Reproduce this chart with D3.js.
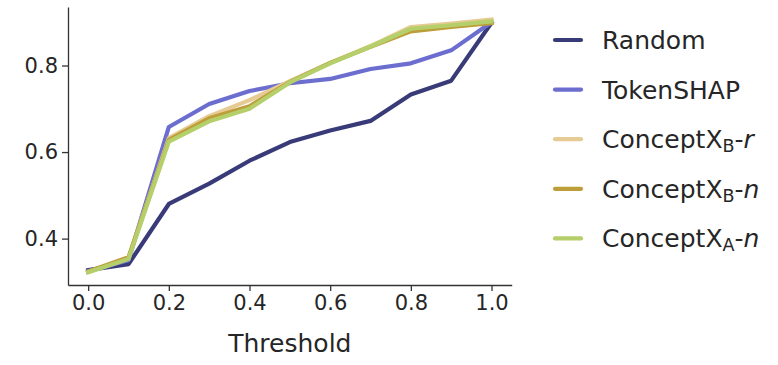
<!DOCTYPE html>
<html>
<head>
<meta charset="utf-8">
<script src="https://cdn.jsdelivr.net/npm/d3@7"></script>
<style>
  html, body { margin: 0; padding: 0; background: #fff; }
  svg { display: block; font-family: "DejaVu Sans", sans-serif; }
</style>
</head>
<body>
<svg id="chart" width="778" height="365"></svg>
<script>
// ---- data ----
const thresholds = [0.0, 0.1, 0.2, 0.3, 0.4, 0.5, 0.6, 0.7, 0.8, 0.9, 1.0];
const seriesNames = ["Random", "TokenSHAP", "ConceptX_B-r", "ConceptX_B-n", "ConceptX_A-n"];
const randomVals    = [0.327, 0.341, 0.480, 0.527, 0.580, 0.623, 0.650, 0.672, 0.733, 0.765, 0.899];
const tokenshapVals = [0.325, 0.350, 0.658, 0.711, 0.741, 0.759, 0.769, 0.792, 0.805, 0.835, 0.900];
const cxBrVals      = [0.323, 0.355, 0.632, 0.683, 0.720, 0.764, 0.806, 0.845, 0.889, 0.897, 0.906];
const cxBnVals      = [0.324, 0.357, 0.628, 0.678, 0.706, 0.762, 0.806, 0.843, 0.879, 0.889, 0.898];
const cxAnVals      = [0.322, 0.353, 0.624, 0.671, 0.700, 0.761, 0.805, 0.844, 0.885, 0.893, 0.902];
const colors = ["#393b79", "#6b6ecf", "#e7cb94", "#bd9e39", "#b5cf6b"];
const xTicks = [0.0, 0.2, 0.4, 0.6, 0.8, 1.0];
const yTicks = [0.4, 0.6, 0.8];
const xLabel = "Threshold";
// legend labels: [main, subscript, suffix(italic)]
const legendParts = [
  ["Random", "", ""],
  ["TokenSHAP", "", ""],
  ["ConceptX", "B", "r"],
  ["ConceptX", "B", "n"],
  ["ConceptX", "A", "n"]
];

const allSeries = [randomVals, tokenshapVals, cxBrVals, cxBnVals, cxAnVals];

// ---- layout ----
const svg = d3.select("#chart");
const mLeft = 68, mRight = 511.7, mTop = 7, mBottom = 285;

const x = d3.scaleLinear().domain([-0.05, 1.05]).range([mLeft, mRight]);
const y = d3.scaleLinear().domain([0.2928, 0.9352]).range([mBottom, mTop]);

const textColor = "#262626";
const axisColor = "#333333";
const tickFont = 21;

// axes
const xAxis = svg.append("g")
  .attr("transform", `translate(0,${mBottom})`)
  .call(d3.axisBottom(x).tickValues(xTicks).tickFormat(d3.format(".1f")).tickSize(6).tickPadding(5).tickSizeOuter(0));
const yAxis = svg.append("g")
  .attr("transform", `translate(${mLeft},0)`)
  .call(d3.axisLeft(y).tickValues(yTicks).tickFormat(d3.format(".1f")).tickSize(6).tickPadding(5).tickSizeOuter(0));

[xAxis, yAxis].forEach(g => {
  g.attr("font-size", tickFont).attr("font-family", "DejaVu Sans");
  g.select(".domain").attr("stroke", axisColor).attr("stroke-width", 1.3);
  g.selectAll(".tick line").attr("stroke", axisColor).attr("stroke-width", 1.3);
  g.selectAll(".tick text").attr("fill", textColor);
});
xAxis.selectAll(".tick text").attr("dy", "0.71em").attr("y", 10);
yAxis.selectAll(".tick text").attr("x", -10);

// x label
svg.append("text")
  .attr("x", (mLeft + mRight) / 2)
  .attr("y", 351.5)
  .attr("text-anchor", "middle")
  .attr("fill", textColor)
  .style("font-size", "25px")
  .text(xLabel);

// lines
const line = d3.line()
  .x((d, i) => x(thresholds[i]))
  .y(d => y(d));

svg.append("g").selectAll("path")
  .data(allSeries)
  .join("path")
  .attr("d", d => line(d))
  .attr("fill", "none")
  .attr("stroke", (d, i) => colors[i])
  .attr("stroke-width", 4.2)
  .attr("stroke-linejoin", "round")
  .attr("stroke-linecap", "square");

// legend
const legend = svg.append("g");
const legY0 = 40, legStep = 49.6;
legendParts.forEach((p, i) => {
  const yy = legY0 + i * legStep;
  legend.append("line")
    .attr("x1", 555).attr("x2", 581)
    .attr("y1", yy).attr("y2", yy)
    .attr("stroke", colors[i])
    .attr("stroke-width", 4.2)
    .attr("stroke-linecap", "round");
  const t = legend.append("text")
    .attr("x", 602)
    .attr("y", yy + 9)
    .attr("fill", textColor)
    .style("font-size", "25px");
  t.append("tspan").text(p[0]);
  if (p[1]) {
    t.append("tspan").attr("dy", 4).style("font-size", "17.5px").text(p[1]);
    t.append("tspan").attr("dy", -4).text("-");
    t.append("tspan").style("font-style", "italic").text(p[2]);
  }
});
</script>
</body>
</html>
